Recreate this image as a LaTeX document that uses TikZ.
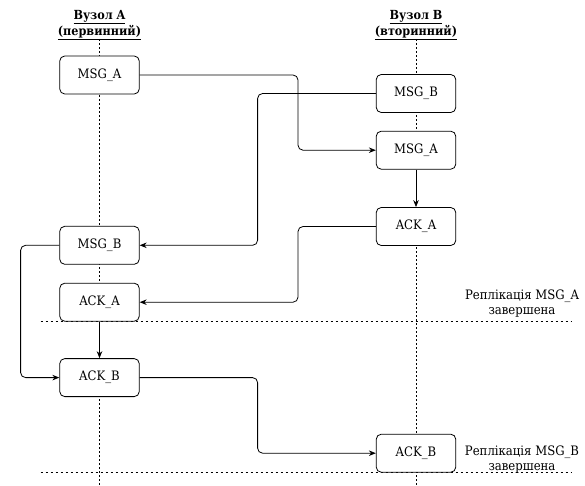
\documentclass[tikz,border=0pt]{standalone}
\usepackage{fontspec}
\setmainfont{DejaVu Serif Condensed}
\usetikzlibrary{arrows.meta}
\begin{document}
\begin{tikzpicture}[x=1pt,y=-1pt,
  msgbox/.style={draw,line width=0.8pt,rounded corners=5pt,minimum width=79.5pt,minimum height=38pt,inner sep=0pt,font=\fontsize{13}{15}\selectfont,fill=white},
  lifeline/.style={dashed,dash pattern=on 2pt off 2pt,line width=0.6pt},
  sepline/.style={dashed,dash pattern=on 2.5pt off 2.5pt,line width=0.7pt},
  conn/.style={-{Stealth[length=7pt,width=5.5pt]},line width=0.8pt,rounded corners=5pt},
  title/.style={font=\fontsize{12.5}{14}\selectfont\bfseries,align=center},
  note/.style={font=\fontsize{13}{14.5}\selectfont,align=center}]
\useasboundingbox (0,0) rectangle (585,486);

% node headers
\node[title] (hA) at (99.5,25) {\underline{Вузол A}\\\underline{(первинний)}};
\node[title] (hB) at (416,25) {\underline{Вузол B}\\\underline{(вторинний)}};

% lifelines
\coordinate (topA) at (99.5,39);
\coordinate (botA) at (99.5,486);
\coordinate (topB) at (416,39);
\coordinate (botB) at (416,486);
\draw[lifeline] (topA) -- (botA);
\draw[lifeline] (topB) -- (botB);

% completion separators
\coordinate (s1l) at (40.5,321);
\coordinate (s1r) at (572,321);
\coordinate (s2l) at (40.5,472.5);
\coordinate (s2r) at (572,472.5);
\draw[sepline] (s1l) -- (s1r);
\draw[sepline] (s2l) -- (s2r);

% messages on node A
\node[msgbox] (aMsgA) at (99.5,75) {MSG\_A};
\node[msgbox] (aMsgB) at (99.5,245.3) {MSG\_B};
\node[msgbox] (aAckA) at (99.5,302.2) {ACK\_A};
\node[msgbox] (aAckB) at (99.5,377.6) {ACK\_B};

% messages on node B
\node[msgbox] (bMsgB) at (416,93.5) {MSG\_B};
\node[msgbox] (bMsgA) at (416,150.2) {MSG\_A};
\node[msgbox] (bAckA) at (416,226.5) {ACK\_A};
\node[msgbox] (bAckB) at (416,453.2) {ACK\_B};

% notes
\node[note] (n1) at (522,303.5) {Реплікація MSG\_A\\завершена};
\node[note] (n2) at (522,459.5) {Реплікація MSG\_B\\завершена};

% connectors
\draw[conn] (aMsgA.east) -| (298,112) |- (bMsgA.west);
\draw[conn] (bMsgB.west) -| (257.6,170) |- (aMsgB.east);
\draw[conn] (bMsgA.south) -- (bAckA.north);
\draw[conn] (bAckA.west) -| (298,264) |- (aAckA.east);
\draw[conn] (aMsgB.west) -| (20.6,310) |- (aAckB.west);
\draw[conn] (aAckA.south) -- (aAckB.north);
\draw[conn] (aAckB.east) -| (257.6,415) |- (bAckB.west);
\end{tikzpicture}
\end{document}
